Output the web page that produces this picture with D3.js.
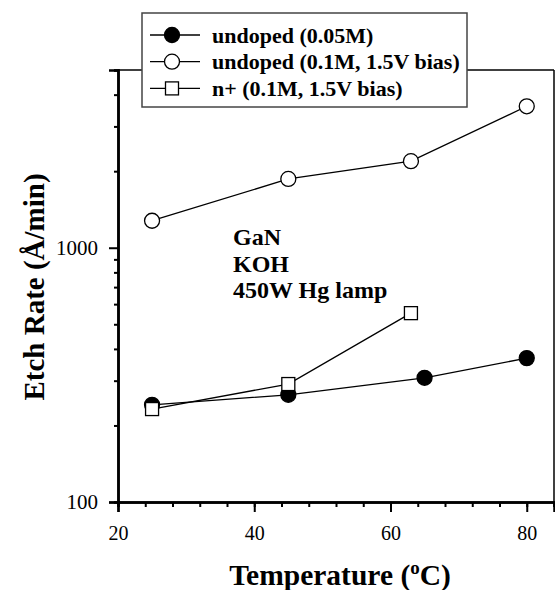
<!DOCTYPE html>
<html>
<head>
<meta charset="utf-8">
<script src="https://cdn.jsdelivr.net/npm/d3@7"></script>
<style>
body{margin:0;background:#fff;}
svg{display:block;font-family:"Liberation Serif","Times New Roman",serif;}
</style>
</head>
<body>
<svg id="chart" width="555" height="590"></svg>
<script>
const seriesNames = ["undoped (0.05M)", "undoped (0.1M, 1.5V bias)", "n+ (0.1M, 1.5V bias)"];
const undoped005X = [25, 45, 65, 80];
const undoped005Y = [241, 264, 308, 368];
const undoped01X = [25, 45, 63, 80];
const undoped01Y = [1277, 1864, 2190, 3600];
const nplusX = [25, 45, 63];
const nplusY = [232, 291, 553];
const xTicks = [20, 40, 60, 80];
const yTickLabels = [100, 1000];
const annotation = ["GaN", "KOH", "450W Hg lamp"];

const svg = d3.select("#chart");
const L = 118, R = 554, T = 70, B = 502;
const x = d3.scaleLinear().domain([20, 84]).range([L, R]);
const y = d3.scaleLog().domain([100, 5000]).range([B, T]);

// frame top/right
svg.append("line").attr("x1", L).attr("x2", R).attr("y1", T).attr("y2", T).attr("stroke", "#000").attr("stroke-width", 1.5);
svg.append("line").attr("x1", R).attr("x2", R).attr("y1", T).attr("y2", B).attr("stroke", "#000").attr("stroke-width", 1.5);

// x axis
const minorX = d3.range(20, 84.01, 4);
const gx = svg.append("g").attr("transform", `translate(0,${B})`);
gx.call(d3.axisBottom(x).tickValues(minorX).tickSize(5).tickFormat(""));
gx.call(g => g.append("g").call(d3.axisBottom(x).tickValues(xTicks).tickSize(10).tickFormat(d3.format("d"))));
gx.selectAll("path.domain").attr("stroke", "#000").attr("stroke-width", 2.5);
gx.selectAll("line").attr("stroke", "#000").attr("stroke-width", 2);
gx.selectAll("text").attr("font-size", 20).attr("fill", "#000").attr("font-family", "Liberation Serif").attr("y", 38).attr("dy", 0);

// y axis
const minorY = [];
[100, 1000].forEach(d => { for (let k = 2; k <= 9; k++) if (d * k <= 5000) minorY.push(d * k); });
const gy = svg.append("g").attr("transform", `translate(${L},0)`);
gy.call(d3.axisLeft(y).tickValues(minorY).tickSize(4).tickFormat(""));
gy.call(g => g.append("g").call(d3.axisLeft(y).tickValues(yTickLabels).tickSize(9).tickFormat(d3.format("d"))));
gy.selectAll("path.domain").attr("stroke", "#000").attr("stroke-width", 2.5);
gy.selectAll("line").attr("stroke", "#000").attr("stroke-width", 2);
gy.selectAll("text").attr("font-size", 21).attr("fill", "#000").attr("font-family", "Liberation Serif").attr("x", -20);

// axis titles
svg.append("text").attr("x", 340).attr("y", 585).attr("text-anchor", "middle")
  .attr("font-size", 29.5).attr("font-weight", "bold")
  .call(t => { t.append("tspan").text("Temperature ("); t.append("tspan").attr("font-size", 19).attr("dy", -11).text("o"); t.append("tspan").attr("dy", 11).text("C)"); });
svg.append("text").attr("transform", "translate(44,287) rotate(-90)").attr("text-anchor", "middle")
  .attr("font-size", 29).attr("font-weight", "bold").text("Etch Rate (Å/min)");

// series
const series = [
  {xs: undoped005X, ys: undoped005Y, type: "circle", fill: "#000"},
  {xs: undoped01X, ys: undoped01Y, type: "circle", fill: "#fff"},
  {xs: nplusX, ys: nplusY, type: "square", fill: "#fff"}
];
const line = d3.line().x(d => x(d[0])).y(d => y(d[1]));
function marker(g, type, fill, cx, cy) {
  if (type === "circle") g.append("circle").attr("cx", cx).attr("cy", cy).attr("r", 7.5).attr("fill", fill).attr("stroke", "#000").attr("stroke-width", 1.3);
  else g.append("rect").attr("x", cx - 6.5).attr("y", cy - 6.5).attr("width", 13).attr("height", 13).attr("fill", fill).attr("stroke", "#000").attr("stroke-width", 1.3);
}
series.forEach(s => {
  const pts = s.xs.map((v, i) => [v, s.ys[i]]);
  svg.append("path").datum(pts).attr("d", line).attr("fill", "none").attr("stroke", "#000").attr("stroke-width", 1.3);
});
series.forEach(s => {
  const g = svg.append("g");
  s.xs.forEach((v, i) => marker(g, s.type, s.fill, x(v), y(s.ys[i])));
});

// annotation
annotation.forEach((t, i) => svg.append("text").attr("x", 233).attr("y", 245 + i * 26.6)
  .attr("font-size", 24).attr("font-weight", "bold").text(t));

// legend
const lg = svg.append("g");
lg.append("rect").attr("x", 142).attr("y", 13).attr("width", 325).attr("height", 94)
  .attr("fill", "#fff").attr("stroke", "#444").attr("stroke-width", 1.5);
series.forEach((s, i) => {
  const cy = 35 + i * 26.7;
  lg.append("line").attr("x1", 150).attr("x2", 200).attr("y1", cy).attr("y2", cy).attr("stroke", "#000").attr("stroke-width", 1.3);
  marker(lg, s.type, s.fill, 172, cy);
  lg.append("text").attr("x", 212).attr("y", cy + 7.5).attr("font-size", 22).attr("font-weight", "bold").text(seriesNames[i]);
});
</script>
</body>
</html>
